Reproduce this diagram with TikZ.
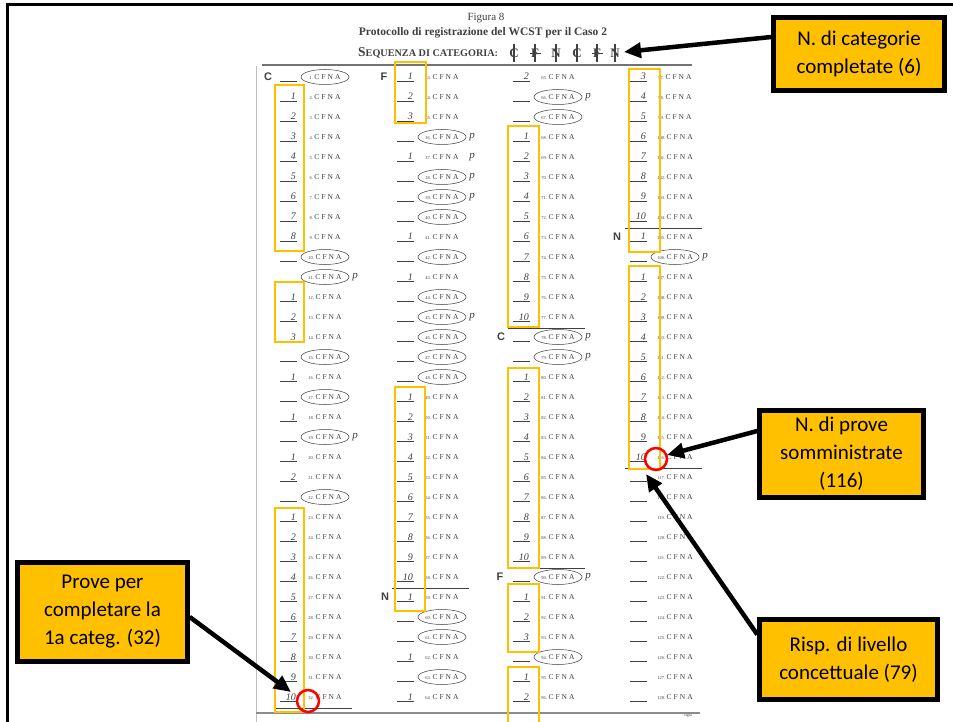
\documentclass[tikz,border=0pt]{standalone}
\usepackage{fontspec}
\newfontfamily\calibri{Carlito}
\newfontfamily\scanfont{Liberation Serif}
\newfontfamily\scansans{Liberation Sans}
\usetikzlibrary{arrows.meta,calc}
\definecolor{gold}{HTML}{FFC000}
\definecolor{ink}{HTML}{404040}
\newcommand\wcstcol[3]{%
  \foreach \r/\d/\e/\p in {#3}{%
    \pgfmathsetmacro\yy{77+(\r-1)*20}%
    \pgfmathtruncatemacro\idx{(#2-1)*32+\r}%
    \draw[ink,line width=0.6pt] (#1,\yy+4) -- (#1+17,\yy+4);
    \node[digitstyle] (d#2r\r) at (#1+16,\yy+3) {\d};
    \node[itemstyle] (i#2r\r) at (#1+45,\yy) {{\fontsize{4.5}{4.5}\selectfont\idx.}\hspace{1.5pt}C\hspace{2pt}F\hspace{2pt}N\hspace{2pt}A};
    \ifnum\e=1 \draw[ink,line width=0.5pt] (#1+45,\yy) ellipse (24pt and 7.5pt);\fi
    \ifnum\p=1 \node[pstyle] (p#2r\r) at (#1+75,\yy) {p};\fi
  }}
\begin{document}
\begin{tikzpicture}[x=1pt,y=-1pt,
  callout/.style={draw=black,line width=4.5pt,fill=gold,align=center,
    font=\calibri\fontsize{21}{28}\selectfont,inner sep=0pt},
  arr/.style={line width=4.5pt,-{Triangle[length=17pt,width=15pt]}},
  hbox/.style={draw=gold,line width=2.5pt},
  redring/.style={draw=red,line width=2.5pt},
  digitstyle/.style={anchor=base east,inner sep=0pt,text=ink,
    font=\scanfont\itshape\fontsize{10}{10}\selectfont},
  itemstyle/.style={inner sep=0pt,text=ink,font=\scanfont\fontsize{7.5}{7.5}\selectfont},
  pstyle/.style={inner sep=0pt,text=ink,font=\scanfont\itshape\fontsize{11}{11}\selectfont},
  catlabel/.style={inner sep=0pt,text=ink,font=\scansans\bfseries\fontsize{11}{11}\selectfont},
  compl/.style={draw=ink,line width=0.8pt},
  hdr/.style={inner sep=0pt,text=ink}]
\useasboundingbox (0,0) rectangle (953,722);
\clip (0,0) rectangle (953,722);
\fill[white] (0,0) rectangle (953,722);
% outer frame
\draw[black,line width=3pt] (7,740) -- (7,5) -- (970,5);
% scanned page edges
\draw[black!25,line width=1pt] (256,740) -- (256,66);
\draw[black!55,line width=1.3pt] (262,65) -- (692,65);
\draw[black!45,line width=1.2pt] (256,713) -- (700,713);
% header
\node[hdr,font=\scanfont\fontsize{11}{11}\selectfont] (fig) at (486,18) {Figura 8};
\node[hdr,font=\scanfont\bfseries\fontsize{11.5}{11.5}\selectfont] (prot) at (483,33) {Protocollo di registrazione del WCST per il Caso 2};
\node[hdr,anchor=west,font=\scanfont\bfseries\fontsize{13.5}{13.5}\selectfont] (seq) at (358,53) {S{\fontsize{10.2}{10.2}\selectfont EQUENZA DI CATEGORIA:}};
\foreach \sx/\sl [count=\k] in {514/C,535/F,556/N,577/C,597/F,615/N}{
  \node[hdr,font=\scanfont\bfseries\fontsize{13}{13}\selectfont] (s\k) at (\sx,53) {\sl};
  \draw[ink,line width=1.1pt] (\sx,44) -- (\sx,62);
}
\draw[ink,line width=1pt] (530,54) -- (541,54);
\draw[ink,line width=1pt] (592,54) -- (603,54);
% columns
\wcstcol{280}{1}{1//1/0,2/1/0/0,3/2/0/0,4/3/0/0,5/4/0/0,6/5/0/0,7/6/0/0,8/7/0/0,9/8/0/0,10//1/0,11//1/1,12/1/0/0,13/2/0/0,14/3/0/0,15//1/0,16/1/0/0,17//1/0,18/1/0/0,19//1/1,20/1/0/0,21/2/0/0,22//1/0,23/1/0/0,24/2/0/0,25/3/0/0,26/4/0/0,27/5/0/0,28/6/0/0,29/7/0/0,30/8/0/0,31/9/0/0,32/10/0/0}
\wcstcol{397}{2}{1/1/0/0,2/2/0/0,3/3/0/0,4//1/1,5/1/0/1,6//1/1,7//1/1,8//1/0,9/1/0/0,10//1/0,11/1/0/0,12//1/0,13//1/1,14//1/0,15//1/0,16//1/0,17/1/0/0,18/2/0/0,19/3/0/0,20/4/0/0,21/5/0/0,22/6/0/0,23/7/0/0,24/8/0/0,25/9/0/0,26/10/0/0,27/1/0/0,28//1/0,29//1/0,30/1/0/0,31//1/0,32/1/0/0}
\wcstcol{513}{3}{1/2/0/0,2//1/1,3//1/0,4/1/0/0,5/2/0/0,6/3/0/0,7/4/0/0,8/5/0/0,9/6/0/0,10/7/0/0,11/8/0/0,12/9/0/0,13/10/0/0,14//1/1,15//1/1,16/1/0/0,17/2/0/0,18/3/0/0,19/4/0/0,20/5/0/0,21/6/0/0,22/7/0/0,23/8/0/0,24/9/0/0,25/10/0/0,26//1/1,27/1/0/0,28/2/0/0,29/3/0/0,30//1/0,31/1/0/0,32/2/0/0}
\wcstcol{630}{4}{1/3/0/0,2/4/0/0,3/5/0/0,4/6/0/0,5/7/0/0,6/8/0/0,7/9/0/0,8/10/0/0,9/1/0/0,10//1/1,11/1/0/0,12/2/0/0,13/3/0/0,14/4/0/0,15/5/0/0,16/6/0/0,17/7/0/0,18/8/0/0,19/9/0/0,20/10/0/0,21//0/0,22//0/0,23//0/0,24//0/0,25//0/0,26//0/0,27//0/0,28//0/0,29//0/0,30//0/0,31//0/0,32//0/0}
% category labels
\node[catlabel] (cC1) at (268,77) {C};
\node[catlabel] (cF1) at (384,77) {F};
\node[catlabel] (cN1) at (385,597) {N};
\node[catlabel] (cC2) at (501,337) {C};
\node[catlabel] (cF2) at (500,577) {F};
\node[catlabel] (cN2) at (617,237) {N};
% completion lines
\foreach \bx/\rr in {280/32,397/26,513/13,513/25,630/8,630/20}{
  \draw[compl] (\bx-5,{77+(\rr-1)*20+11}) -- (\bx+72,{77+(\rr-1)*20+11});
}
\node[hdr,font=\scanfont\fontsize{4}{4}\selectfont] (sig) at (688,716) {sigla};
% orange highlight boxes
\draw[hbox] (275,85) rectangle (304,251);
\draw[hbox] (275,282) rectangle (304,342);
\draw[hbox] (275,508) rectangle (304,712);
\draw[hbox] (395,62) rectangle (426,123);
\draw[hbox] (395,387) rectangle (425,611);
\draw[hbox] (508,126) rectangle (539,327);
\draw[hbox] (508,368) rectangle (539,568);
\draw[hbox] (508,584) rectangle (539,652);
\draw[hbox] (508,667) rectangle (539,735);
\draw[hbox] (629,69) rectangle (660,252);
\draw[hbox] (629,266) rectangle (660,469);
% red rings
\draw[redring] (308,701) circle (11pt);
\draw[redring] (656,459) circle (11pt);
% callouts
\node[callout,minimum width=171pt,minimum height=73pt] (b1) at (859,54) {N. di categorie\\completate (6)};
\node[callout,minimum width=164pt,minimum height=87pt] (b2) at (841.5,454) {N. di prove\\somministrate\\(116)};
\node[callout,minimum width=178pt,minimum height=80pt] (b3) at (848.5,659.5) {Risp. di livello\\concettuale (79)};
\node[callout,minimum width=170pt,minimum height=99pt] (b4) at (102.5,612) {Prove per\\completare la\\1a categ. (32)};
% arrows
\coordinate (t1) at (624,52);
\coordinate (t2) at (667,455);
\coordinate (t3) at (646,474);
\coordinate (t4) at (291,692);
\draw[arr] ([yshift=17pt]b1.west) -- (t1);
\draw[arr] ([yshift=23pt]b2.west) -- (t2);
\draw[arr] ([yshift=25pt]b3.west) -- (t3);
\draw[arr] ([yshift=-5pt]b4.east) -- (t4);
\end{tikzpicture}
\end{document}
